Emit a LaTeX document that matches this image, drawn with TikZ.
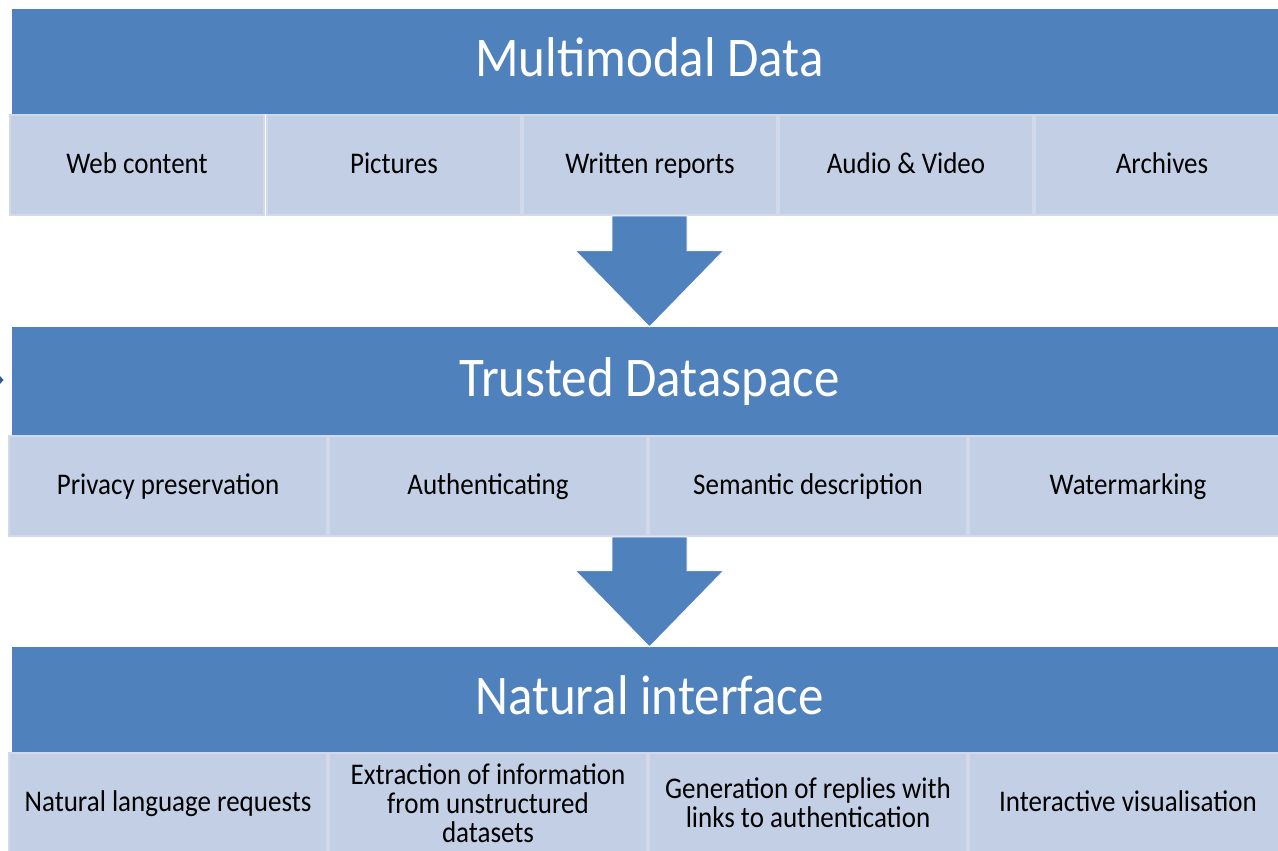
\documentclass[tikz,border=0pt]{standalone}
\usepackage{fontspec}
\setmainfont{Carlito}
\newfontfamily\headfont[FakeStretch=0.91]{Carlito}
\newfontfamily\cellfont[FakeStretch=0.90]{Carlito}
\usetikzlibrary{calc}
\definecolor{hdr}{HTML}{4F81BD}
\definecolor{cellf}{HTML}{C3CFE5}
\definecolor{cellb}{HTML}{D1D9EA}
\definecolor{edgemark}{HTML}{2F5D8F}
\tikzset{
  header/.style={fill=hdr, text=white, inner sep=0pt, minimum width=1276pt,
    text height=40pt, text depth=9.6pt,
    font=\headfont\fontsize{56}{60}\selectfont},
  cell/.style={fill=cellf, draw=cellb, line width=2pt, inner sep=0pt,
    minimum height=100pt, text=black, align=center,
    text height=22pt, text depth=5.4pt,
    font=\cellfont\fontsize{30}{29}\selectfont},
  cellfive/.style={cell, minimum width=254pt},
  cellfour/.style={cell, minimum width=318pt},
  multiline/.style={text height=, text depth=},
  blockarrow/.style={fill=hdr, draw=white, line width=0.8pt}
}
% #1: node whose bottom gives the shaft start, #2: header whose top takes the tip
\newcommand{\downarrowshape}[2]{%
  \filldraw[blockarrow] let \p1=(#1), \p2=(#2) in
    (\x2-37.5pt,\y1) -- (\x2+37.5pt,\y1) -- (\x2+37.5pt,\y2+76pt)
    -- (\x2+74pt,\y2+76pt) -- (\x2,\y2) -- (\x2-74pt,\y2+76pt)
    -- (\x2-37.5pt,\y2+76pt) -- cycle;}
\begin{document}
\begin{tikzpicture}[x=1pt,y=-1pt]
\useasboundingbox (0,0) rectangle (1278,851);
\clip (0,0) rectangle (1278,851);
\fill[white] (0,0) rectangle (1278,851);

% headers
\node[header, minimum height=105pt] (h1) at (649.5,61.5) {Multimodal Data};
\node[header, minimum height=108pt] (h2) at (649.5,381) {Trusted Dataspace};
\node[header, minimum height=105pt] (h3) at (649.5,699.5) {Natural interface};

% row 1
\node[cellfive] (c11) at (137,165) {Web content};
\node[cellfive] (c12) at (394,165) {Pictures};
\node[cellfive] (c13) at (650,165) {Written reports};
\node[cellfive] (c14) at (906,165) {Audio \& Video};
\node[cellfive] (c15) at (1162,165) {Archives};

% row 2
\node[cellfour] (c21) at (168,486) {Privacy preservation};
\node[cellfour] (c22) at (488,486) {Authenticating};
\node[cellfour] (c23) at (808,486) {Semantic description};
\node[cellfour] (c24) at (1128,486) {Watermarking};

% row 3
\node[cellfour] (c31) at (168,803) {Natural language requests};
\node[cellfour, multiline] (c32) at (488,803) {Extraction of information\\from unstructured\\datasets};
\node[cellfour, multiline] (c33) at (808,803) {Generation of replies with\\links to authentication};
\node[cellfour] (c34) at (1128,803) {Interactive visualisation};

% block arrows
\downarrowshape{c13.south}{h2.north}
\downarrowshape{c23.south}{h3.north}

% small mark at the left edge
\fill[edgemark] (0,376) -- (3.5,380) -- (0,384) -- cycle;
\end{tikzpicture}
\end{document}
